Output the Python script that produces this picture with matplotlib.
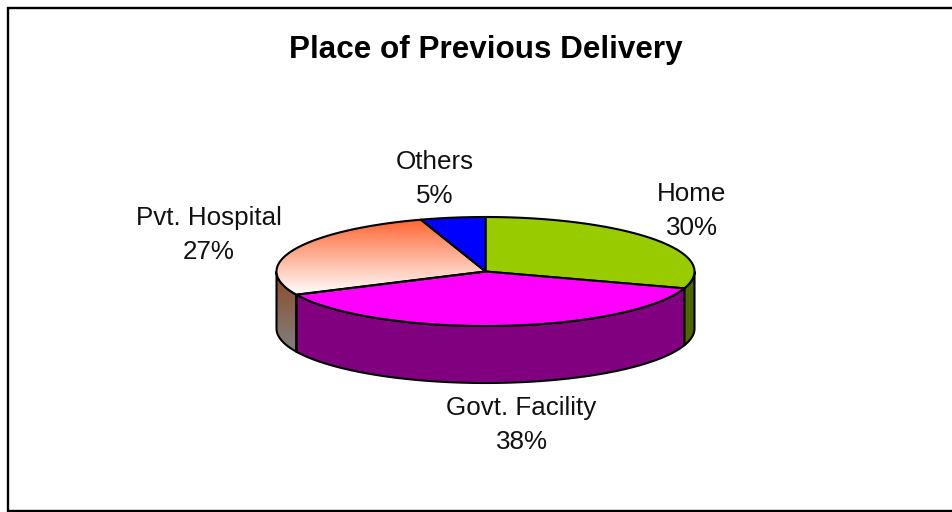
#!/usr/bin/env python3
"""Place of Previous Delivery - 3D style pie"""

import numpy as np
import matplotlib
matplotlib.use('Agg')
import matplotlib.pyplot as plt
from matplotlib.patches import Polygon
from matplotlib.colors import LinearSegmentedColormap

labels = ['Home', 'Govt. Facility', 'Pvt. Hospital', 'Others']
values = [30, 38, 27, 5]
label_x = [691.5, 521.5, 209, 434.5]
label_y = [201, 415, 225, 169]

top_colors = ['#99CC00', '#FF00FF', None, '#0000FF']
side_colors = ['#4D6600', '#800080', None, '#000080']

plt.rcParams['font.family'] = ['Liberation Sans', 'DejaVu Sans']

CX, CY, RX, RY, DEPTH = 485.5, 271.5, 209, 54.5, 57
LINE_GAP = 34


def rim(a0, a1, dy=0):
    """Ellipse arc, angles in degrees clockwise from 12 o'clock"""
    t = np.radians(np.linspace(a0, a1, max(int(abs(a1 - a0) * 2), 2)))
    return np.column_stack([CX + RX * np.sin(t), CY - RY * np.cos(t) + dy])


fig = plt.figure(figsize=(9.52, 5.12), dpi=100)
ax = fig.add_axes([0, 0, 1, 1])
ax.set_xlim(0, 952)
ax.set_ylim(512, 0)
ax.axis('off')

# chart frame, right side runs off the picture
ax.plot([952, 8, 8, 952], [8, 8, 511, 511], color='black', lw=1.7,
        solid_joinstyle='miter')

ax.text(486, 58, 'Place of Previous Delivery', ha='center', va='baseline',
        fontsize=22.6, fontweight='bold')

edges = np.cumsum([0] + values) * 3.6

wedge_cmap = LinearSegmentedColormap.from_list('w', ['#FF6633', '#FFFFFF'])
side_cmap = LinearSegmentedColormap.from_list('s', ['#8F4A28', '#808080'])

# front walls first
for i in range(len(values)):
    a0, a1 = max(edges[i], 90), min(edges[i + 1], 270)
    if a1 <= a0:
        continue
    pts = np.vstack([rim(a0, a1), rim(a0, a1, DEPTH)[::-1]])
    if side_colors[i] is None:
        poly = Polygon(pts, closed=True, fc='none', ec='none')
        ax.add_patch(poly)
        im = ax.imshow(np.linspace(0, 1, 256).reshape(-1, 1), cmap=side_cmap,
                       aspect='auto', zorder=2,
                       extent=[CX - RX, CX + RX, pts[:, 1].max(), pts[:, 1].min()])
        im.set_clip_path(poly)
    ax.add_patch(Polygon(pts, closed=True, fc=side_colors[i] or 'none',
                         ec='black', lw=1.5, zorder=3))

# top faces
for i in range(len(values)):
    pts = np.vstack([[CX, CY], rim(edges[i], edges[i + 1])])
    if top_colors[i] is None:
        poly = Polygon(pts, closed=True, fc='none', ec='none')
        ax.add_patch(poly)
        im = ax.imshow(np.linspace(0, 1, 256).reshape(-1, 1), cmap=wedge_cmap,
                       aspect='auto', zorder=4,
                       extent=[CX - RX, CX + RX, pts[:, 1].max(), pts[:, 1].min()])
        im.set_clip_path(poly)
    ax.add_patch(Polygon(pts, closed=True, fc=top_colors[i] or 'none',
                         ec='black', lw=1.5, zorder=5))

ax.set_xlim(0, 952)
ax.set_ylim(512, 0)

for name, val, x, y in zip(labels, values, label_x, label_y):
    ax.text(x, y, name, ha='center', va='baseline', fontsize=18.7, color='#111111')
    ax.text(x, y + LINE_GAP, f'{val}%', ha='center', va='baseline', fontsize=18.7,
            color='#111111')

plt.savefig('out.png', dpi=100)
plt.close()
